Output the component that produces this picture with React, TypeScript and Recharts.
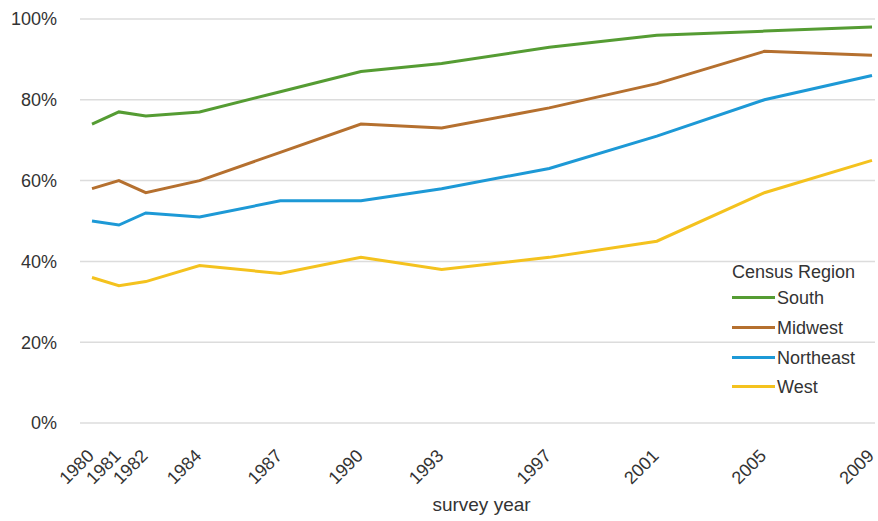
import React from "react";
import { LineChart, Line, XAxis, YAxis, CartesianGrid } from "recharts";

const years = [1980, 1981, 1982, 1984, 1987, 1990, 1993, 1997, 2001, 2005, 2009];
const south = [74, 77, 76, 77, 82, 87, 89, 93, 96, 97, 98];
const midwest = [58, 60, 57, 60, 67, 74, 73, 78, 84, 92, 91];
const northeast = [50, 49, 52, 51, 55, 55, 58, 63, 71, 80, 86];
const west = [36, 34, 35, 39, 37, 41, 38, 41, 45, 57, 65];
const yTicks = [0, 20, 40, 60, 80, 100];

const seriesNames = ["South", "Midwest", "Northeast", "West"];
const seriesKeys = ["south", "midwest", "northeast", "west"];
const seriesColors = ["#559c33", "#b5702f", "#1d99d6", "#f4c21e"];

const data = years.map((y, i) => ({
  year: y,
  south: south[i],
  midwest: midwest[i],
  northeast: northeast[i],
  west: west[i],
}));

const FONT = "'Liberation Sans', Arial, sans-serif";
const TEXT = "#333";

const XTick = (props: any) => {
  const { x, y, payload } = props;
  return (
    <text
      x={0}
      y={0}
      transform={`translate(${x + 3}, ${y + 34}) rotate(-45)`}
      textAnchor="end"
      fontFamily={FONT}
      fontSize={18}
      fill={TEXT}
    >
      {payload.value}
    </text>
  );
};

const ChartLegend = () => (
  <div
    style={{
      position: "absolute",
      left: 732,
      top: 257,
      fontFamily: FONT,
      fontSize: 18,
      color: TEXT,
    }}
  >
    <div style={{ height: 27, lineHeight: "30px", whiteSpace: "nowrap" }}>Census Region</div>
    {seriesNames.map((n, i) => (
      <div key={n} style={{ display: "flex", alignItems: "center", height: 29.7, whiteSpace: "nowrap" }}>
        <div style={{ width: 43, height: 3, background: seriesColors[i], marginRight: 2, marginTop: -2 }} />
        <span>{n}</span>
      </div>
    ))}
  </div>
);

export default function App() {
  return (
    <div style={{ position: "absolute", left: 0, top: 0, width: 878, height: 521, background: "#fff" }}>
      <LineChart width={878} height={521} data={data} margin={{ top: 19, right: 3, bottom: 0, left: 0 }}>
        <CartesianGrid horizontal vertical={false} stroke="#dcdcdc" strokeWidth={1.5} />
        <XAxis
          dataKey="year"
          type="number"
          domain={[1980, 2009]}
          ticks={years}
          interval={0}
          padding={{ left: 12, right: 3 }}
          axisLine={false}
          tickLine={false}
          tickSize={0}
          tickMargin={0}
          tick={<XTick />}
          height={98}
          label={{ value: "survey year", position: "insideBottom", offset: 10, fontFamily: FONT, fontSize: 19, fill: TEXT, dx: 4 }}
        />
        <YAxis
          domain={[0, 100]}
          ticks={yTicks}
          width={80}
          axisLine={false}
          tickLine={false}
          tickSize={0}
          tickMargin={23}
          tickFormatter={(v: number) => `${v}%`}
          tick={{ fontFamily: FONT, fontSize: 18, fill: TEXT }}
        />
        {seriesKeys.map((k, i) => (
          <Line
            key={k}
            dataKey={k}
            name={seriesNames[i]}
            stroke={seriesColors[i]}
            strokeWidth={3}
            dot={false}
            activeDot={false}
            isAnimationActive={false}
          />
        ))}
      </LineChart>
      <ChartLegend />
    </div>
  );
}
